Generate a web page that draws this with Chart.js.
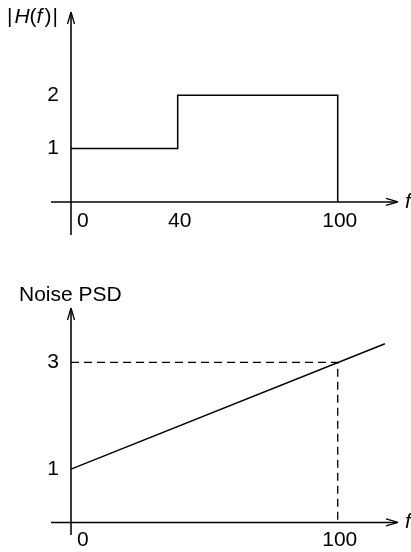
<!DOCTYPE html>
<html>
<head>
<meta charset="utf-8">
<script src="https://cdn.jsdelivr.net/npm/chart.js@4"></script>
<style>
  html,body{margin:0;padding:0;background:#fff;}
  .box{width:411px;height:276px;position:relative;}
</style>
</head>
<body>
<div class="box"><canvas id="hfChart" width="411" height="276"></canvas></div>
<div class="box"><canvas id="psdChart" width="411" height="276"></canvas></div>
<script>
// |H(f)| : step response
const hfX = [0, 40, 40, 100, 100];
const hfY = [1, 1, 2, 2, 0];
const hfXTicks = [0, 40, 100];
const hfYTicks = [1, 2];

// Noise PSD : straight line 1 -> 3 at f=100, drawn a bit past 100
const psdX = [0, 117.7];
const psdY = [1, 3.35];
const guideX = [0, 100, 100];
const guideY = [3, 3, 0];
const psdXTicks = [0, 100];
const psdYTicks = [1, 3];

const FONT = '"Liberation Sans", Arial, sans-serif';
const INK = '#000';
const AXIS = '#3a3a3a';

const pts = (xs, ys) => xs.map((x, i) => ({x, y: ys[i]}));

function arrow(ctx, x, y, dir){
  // small arrow head, dir = 'up' or 'right'
  ctx.save();
  ctx.translate(x, y);
  if (dir === 'up') ctx.rotate(-Math.PI/2);
  ctx.beginPath();
  ctx.moveTo(0, 0); ctx.lineTo(-12, -3.5);
  ctx.moveTo(0, 0); ctx.lineTo(-12, 3.5);
  ctx.strokeStyle = INK; ctx.lineWidth = 1.3;
  ctx.stroke();
  ctx.restore();
}

// draws the axes, arrows, tick labels and titles from the chart's own scales
const axesPlugin = {
  id: 'axesPlugin',
  beforeDatasetsDraw(chart, args, opts){
    const {ctx, chartArea: ca, scales: {x, y}} = chart;
    const x0 = x.getPixelForValue(0), y0 = y.getPixelForValue(0);
    ctx.save();
    // y axis
    ctx.strokeStyle = AXIS; ctx.lineWidth = 2;
    ctx.beginPath(); ctx.moveTo(x0, ca.bottom); ctx.lineTo(x0, ca.top + 2); ctx.stroke();
    arrow(ctx, x0, ca.top, 'up');
    // x axis
    ctx.strokeStyle = INK; ctx.lineWidth = 1.5;
    ctx.beginPath(); ctx.moveTo(ca.left, y0); ctx.lineTo(ca.right - 1, y0); ctx.stroke();
    arrow(ctx, ca.right, y0, 'right');

    ctx.fillStyle = INK;
    ctx.font = '21px ' + FONT;
    ctx.textBaseline = 'middle';
    opts.xTicks.forEach(v => {
      const px = x.getPixelForValue(v);
      if (v === 0){ ctx.textAlign = 'left'; ctx.fillText('0', px + 6, y0 + opts.xLabelGap); }
      else { ctx.textAlign = 'center'; ctx.fillText(String(v), px + 2, y0 + opts.xLabelGap); }
    });
    ctx.textAlign = 'right';
    opts.yTicks.forEach(v => ctx.fillText(String(v), x0 - 12, y.getPixelForValue(v)));

    // axis name at the end of the x axis
    ctx.textAlign = 'left';
    ctx.font = 'italic 21px ' + FONT;
    ctx.fillText('f', ca.right + 7, y0);

    // y title, made of plain and italic pieces with small gaps
    let tx = opts.titleX;
    opts.title.forEach(([s, it, gap]) => {
      ctx.font = (it ? 'italic ' : '') + '21px ' + FONT;
      ctx.fillText(s, tx, opts.titleY);
      tx += ctx.measureText(s).width + (gap || 0);
    });
    ctx.restore();
  }
};

const baseOptions = (pad, yMin, yMax) => ({
  responsive: false,
  animation: false,
  layout: {padding: pad},
  plugins: {legend: {display: false}, tooltip: {enabled: false}},
  scales: {
    x: {type: 'linear', min: -7.5, max: 122.6, display: false},
    y: {type: 'linear', min: yMin, max: yMax, display: false}
  },
  elements: {point: {radius: 0}, line: {tension: 0}}
});

const hfOpts = baseOptions({left: 51, right: 13, top: 12, bottom: 41}, -0.62, 3.56);
hfOpts.plugins.axesPlugin = {
  xTicks: hfXTicks, yTicks: hfYTicks, xLabelGap: 19,
  title: [['|', false, 2], ['H', true, 0], ['(', false, 0], ['f', true, 2], [')', false, 1], ['|', false, 0]],
  titleX: 7, titleY: 17
};
new Chart(document.getElementById('hfChart'), {
  type: 'scatter',
  data: {datasets: [{
    data: pts(hfX, hfY), showLine: true, borderColor: INK, borderWidth: 1.5, fill: false
  }]},
  options: hfOpts,
  plugins: [axesPlugin]
});

const psdOpts = baseOptions({left: 51, right: 13, top: 32, bottom: 17}, -0.235, 4.02);
psdOpts.plugins.axesPlugin = {
  xTicks: psdXTicks, yTicks: psdYTicks, xLabelGap: 18,
  title: [['Noise PSD', false, 0]],
  titleX: 19, titleY: 19
};
new Chart(document.getElementById('psdChart'), {
  type: 'scatter',
  data: {datasets: [
    {data: pts(psdX, psdY), showLine: true, borderColor: INK, borderWidth: 1.5, fill: false},
    {data: pts(guideX, guideY), showLine: true, borderColor: INK, borderWidth: 1.3,
     borderDash: [8, 5], fill: false}
  ]},
  options: psdOpts,
  plugins: [axesPlugin]
});
</script>
</body>
</html>
